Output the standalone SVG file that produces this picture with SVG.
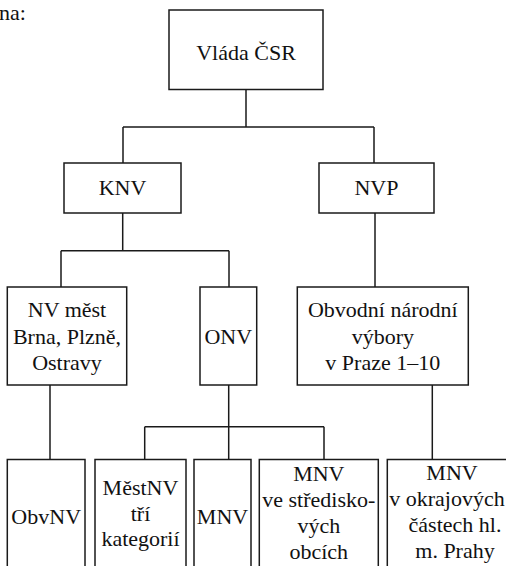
<svg xmlns="http://www.w3.org/2000/svg" width="506" height="566" viewBox="0 0 506 566">
<style>
  .box { fill: #ffffff; stroke: #1a1a1a; stroke-width: 1.5; }
  .conn { fill: none; stroke: #1a1a1a; stroke-width: 1.5; }
  .lbl { font-family: "Liberation Serif", "Times New Roman", serif; font-size: 22px; fill: #111111; text-anchor: middle; }
  .lead { text-anchor: start; }
</style>
<rect x="0" y="0" width="506" height="566" fill="#ffffff"/>
<text class="lbl lead" x="-1" y="20">na:</text>
<g id="connectors">
  <path class="conn" d="M246,89.5 V127 M123,127 H374 M123,127 V163 M374,127 V163"/>
  <path class="conn" d="M122.7,213 V250.7 M61,250.7 H229 M61,250.7 V287 M229,250.7 V287"/>
  <path class="conn" d="M375,213 V287"/>
  <path class="conn" d="M50,385 V459.5"/>
  <path class="conn" d="M228.7,385 V459.5 M144.7,426.7 H324 M144.7,426.7 V459.5 M324,426.7 V459.5"/>
  <path class="conn" d="M432.3,385 V459.5"/>
</g>
<g id="vlada">
  <rect class="box" x="169" y="10" width="154" height="79.5"/>
  <text class="lbl" x="246" y="60">Vláda ČSR</text>
</g>
<g id="knv">
  <rect class="box" x="64" y="163" width="117" height="50"/>
  <text class="lbl" x="122.5" y="195">KNV</text>
</g>
<g id="nvp">
  <rect class="box" x="319" y="163" width="115" height="50"/>
  <text class="lbl" x="376.5" y="195">NVP</text>
</g>
<g id="nv-mest">
  <rect class="box" x="7.3" y="287" width="119.4" height="98"/>
  <text class="lbl" x="67" y="317">NV měst</text>
  <text class="lbl" x="67" y="343.5">Brna, Plzně,</text>
  <text class="lbl" x="67" y="370">Ostravy</text>
</g>
<g id="onv">
  <rect class="box" x="200" y="287" width="56.7" height="98"/>
  <text class="lbl" x="228.3" y="344">ONV</text>
</g>
<g id="obvodni">
  <rect class="box" x="297.3" y="287" width="171" height="98"/>
  <text class="lbl" x="382.8" y="317">Obvodní národní</text>
  <text class="lbl" x="382.8" y="343.5">výbory</text>
  <text class="lbl" x="382.8" y="370">v Praze 1–10</text>
</g>
<g id="obvnv">
  <rect class="box" x="7.3" y="459.5" width="77.7" height="130"/>
  <text class="lbl" x="46.2" y="524">ObvNV</text>
</g>
<g id="mestnv">
  <rect class="box" x="95" y="459.5" width="91" height="130"/>
  <text class="lbl" x="140.5" y="494.5">MěstNV</text>
  <text class="lbl" x="140.5" y="520.5">tří</text>
  <text class="lbl" x="140.5" y="546">kategorií</text>
</g>
<g id="mnv">
  <rect class="box" x="194" y="459.5" width="57" height="130"/>
  <text class="lbl" x="222.5" y="524">MNV</text>
</g>
<g id="mnv-stredisko">
  <rect class="box" x="259.3" y="459.5" width="119" height="130"/>
  <text class="lbl" x="318.8" y="481">MNV</text>
  <text class="lbl" x="318.8" y="507">ve středisko-</text>
  <text class="lbl" x="318.8" y="533">vých</text>
  <text class="lbl" x="318.8" y="559">obcích</text>
</g>
<g id="mnv-okraj">
  <rect class="box" x="387.3" y="459.5" width="140" height="130"/>
  <text class="lbl" x="452" y="480">MNV</text>
  <text class="lbl" x="447" y="506">v okrajových</text>
  <text class="lbl" x="455" y="532">částech hl.</text>
  <text class="lbl" x="455" y="558">m. Prahy</text>
</g>
</svg>
